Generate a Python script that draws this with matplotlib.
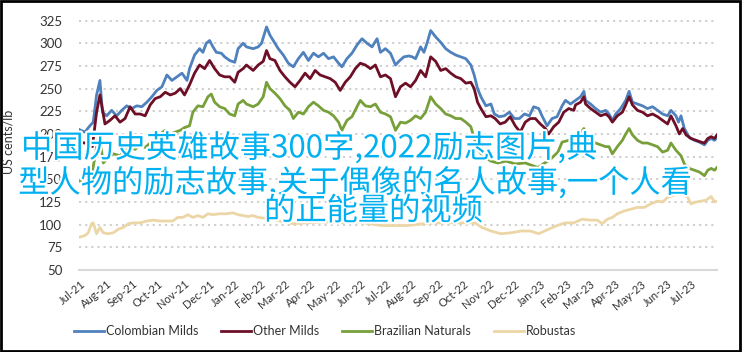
import matplotlib
matplotlib.use("Agg")
import matplotlib.pyplot as plt
import matplotlib.dates as mdates
import matplotlib.patheffects as pe
from matplotlib.patches import Rectangle
import pandas as pd

BASE = "2021-07-01"

# (day offset from BASE, US cents/lb)
colombian_milds = [(-2,205),(5,202),(11,209),(15,213),(19,243),(23,259),(26,224),(31,220),(37,226),(43,220),(49,226),(55,231),(61,228),(67,231),(73,230),(79,235),(85,241),(91,248),(97,252),(103,265),(109,259),(115,263),(121,267),(127,259),(130,272),(136,287),(142,294),(146,290),(150,300),(154,303),(158,296),(162,290),(168,289),(172,285),(178,281),(184,279),(188,294),(194,300),(198,296),(206,294),(212,296),(216,300),(222,318),(226,309),(230,303),(236,294),(242,287),(248,278),(254,274),(260,283),(266,290),(272,281),(278,289),(284,285),(290,289),(296,283),(302,285),(308,278),(312,274),(318,283),(324,289),(330,298),(336,305),(342,300),(348,296),(354,305),(358,290),(364,294),(370,289),(376,276),(380,280),(386,285),(392,286),(396,285),(400,283),(406,296),(410,290),(414,301),(418,314),(424,307),(430,301),(436,294),(442,290),(448,287),(454,285),(460,283),(466,276),(470,265),(474,250),(478,241),(484,231),(490,233),(494,222),(500,219),(506,220),(512,224),(518,217),(524,217),(530,222),(536,220),(541,230),(547,228),(551,220),(557,209),(563,217),(569,219),(575,231),(579,237),(585,233),(591,237),(597,241),(601,247),(603,237),(609,233),(615,228),(621,224),(627,226),(631,222),(635,215),(639,222),(645,228),(651,237),(655,247),(659,235),(665,233),(671,231),(677,228),(683,230),(689,226),(695,222),(701,220),(705,226),(711,220),(714,213),(717,220),(721,206),(727,196),(733,193),(739,191),(745,188),(749,193),(753,195),(757,193),(760,196)]

other_milds = [(-2,191),(5,190),(11,188),(14,186),(19,224),(23,243),(29,211),(35,215),(41,220),(47,213),(53,217),(59,230),(65,222),(71,222),(77,220),(83,232),(89,239),(95,241),(101,246),(107,243),(113,245),(119,250),(124,243),(130,254),(136,267),(142,276),(148,272),(154,281),(160,272),(166,265),(172,263),(178,263),(184,257),(188,268),(194,272),(198,276),(206,270),(212,276),(218,280),(222,292),(226,283),(232,281),(238,270),(244,263),(250,257),(256,252),(262,259),(268,267),(274,261),(280,270),(286,265),(292,263),(298,261),(304,257),(310,248),(316,257),(322,263),(328,272),(334,278),(340,276),(346,272),(352,276),(358,263),(364,265),(370,261),(376,241),(382,252),(388,256),(394,252),(400,259),(406,270),(412,263),(418,285),(424,280),(430,270),(436,272),(442,267),(448,263),(454,261),(460,256),(466,257),(470,250),(474,235),(478,228),(484,219),(490,220),(495,217),(501,211),(507,213),(513,219),(519,209),(525,202),(531,213),(537,217),(543,217),(549,211),(555,206),(559,200),(565,208),(571,213),(577,224),(583,228),(589,226),(591,232),(597,235),(601,241),(603,233),(609,228),(615,224),(621,220),(627,222),(631,219),(635,213),(641,220),(647,224),(651,232),(655,241),(659,232),(665,226),(671,224),(677,220),(683,222),(689,219),(695,215),(701,211),(705,220),(711,209),(715,200),(719,206),(723,199),(729,195),(735,193),(741,191),(745,190),(749,195),(753,197),(757,195),(760,199)]

brazilian_naturals = [(-2,148),(5,149),(11,152),(14,158),(17,175),(22,200),(27,168),(31,172),(39,178),(47,176),(53,182),(59,186),(65,183),(71,188),(77,185),(83,190),(89,195),(95,200),(101,204),(107,200),(113,202),(119,204),(124,207),(130,209),(134,224),(140,231),(146,230),(152,241),(156,244),(160,235),(166,230),(172,228),(178,222),(184,220),(188,233),(194,237),(198,233),(206,230),(212,233),(218,241),(222,257),(226,250),(232,245),(238,239),(244,231),(250,226),(254,217),(260,224),(266,222),(272,230),(278,235),(284,231),(290,226),(296,224),(302,220),(308,213),(312,204),(318,215),(324,219),(330,230),(334,237),(340,231),(346,230),(352,233),(358,224),(364,222),(370,219),(376,204),(382,213),(388,212),(394,215),(400,220),(406,217),(412,224),(418,241),(424,233),(430,228),(436,222),(442,220),(448,217),(454,217),(460,213),(466,208),(470,195),(474,184),(480,176),(490,170),(498,168),(508,170),(519,167),(531,168),(546,163),(561,172),(570,180),(575,191),(583,193),(589,195),(591,191),(597,200),(601,206),(603,199),(609,193),(615,190),(621,188),(627,186),(631,186),(635,178),(641,186),(647,193),(651,200),(655,206),(659,199),(665,193),(671,190),(677,190),(683,188),(689,186),(695,180),(701,182),(705,190),(711,182),(717,176),(721,167),(727,162),(733,160),(739,158),(745,154),(749,160),(753,162),(757,160),(760,163)]

robustas = [(-2,86),(5,88),(9,91),(13,101),(15,102),(19,90),(23,97),(27,91),(33,90),(39,91),(45,95),(51,97),(57,101),(63,102),(71,102),(79,104),(87,105),(95,104),(103,104),(110,104),(116,108),(122,108),(128,111),(134,108),(140,110),(146,108),(152,112),(158,111),(166,112),(174,112),(182,113),(188,111),(194,110),(200,109),(206,110),(212,108),(220,107),(230,106),(242,103),(254,101),(270,102),(290,103),(310,102),(330,103),(345,101),(360,99),(375,99),(390,99),(410,101),(430,102),(450,102),(465,102),(471,102),(479,97),(490,93),(502,90),(514,91),(526,93),(537,93),(547,90),(559,95),(569,99),(579,102),(589,102),(599,106),(609,105),(617,105),(623,101),(629,106),(635,108),(641,112),(649,115),(657,117),(665,119),(673,119),(681,123),(689,126),(695,125),(701,130),(707,132),(713,134),(721,133),(725,130),(729,123),(735,125),(741,126),(747,127),(753,131),(757,125),(760,126)]

series_names = ["Colombian Milds", "Other Milds", "Brazilian Naturals", "Robustas"]
series_data = [colombian_milds, other_milds, brazilian_naturals, robustas]
series_colors = ["#4f81bd", "#6d0f26", "#77a03b", "#ecd6a6"]

y_ticks = [50, 75, 100, 125, 150, 175, 200, 225, 250, 275, 300, 325]
y_label = "US cents/lb"

overlay_lines = ["中国历史英雄故事300字,2022励志图片,典",
                 "型人物的励志故事,关于偶像的名人故事,一个人看",
                 "的正能量的视频"]

plt.rcParams['font.family'] = ['Lato', 'DejaVu Sans']

fig = plt.figure(figsize=(7.43, 3.52), dpi=100)
ax = fig.add_axes([79/743, 1-270/352, (717-79)/743, (270-11.5)/352])

base = pd.Timestamp(BASE)
for name, data, col in zip(series_names, series_data, series_colors):
    d = [base + pd.Timedelta(days=k) for k, _ in data]
    v = [val for _, val in data]
    ax.plot(d, v, color=col, lw=2.0, label=name, solid_joinstyle='round')

first = base + pd.Timedelta(days=colombian_milds[0][0])
last = base + pd.Timedelta(days=colombian_milds[-1][0])
ax.set_xlim(first, last)
ax.set_ylim(50, 335)
ax.set_yticks(y_ticks)
ax.yaxis.grid(True, color="#cccccc", linestyle=(0, (1.2, 2.2)), lw=1.3)
ax.set_axisbelow(True)
for s in ["left", "right", "top"]:
    ax.spines[s].set_visible(False)
ax.spines["bottom"].set_color("#d9d9d9")
ax.spines["bottom"].set_linewidth(1.5)
ax.xaxis.set_major_locator(mdates.MonthLocator())
ax.xaxis.set_major_formatter(mdates.DateFormatter("%b-%y"))
ax.tick_params(axis="y", length=0, pad=12, labelsize=9.5, labelcolor="#333333")
ax.tick_params(axis="x", length=0, pad=6, labelsize=8, labelcolor="#333333")
for lab in ax.get_xticklabels():
    lab.set_rotation(40)
    lab.set_ha("right")
    lab.set_rotation_mode("anchor")

fig.text(9/743, 1-142/352, y_label, rotation=90, ha="center", va="center",
         fontsize=9, color="#333333")

handles, labels = ax.get_legend_handles_labels()
fig.legend(handles, labels, loc="center", bbox_to_anchor=(325/743, 1-331/352),
           ncol=4, frameon=False, fontsize=9, handlelength=2.4,
           handletextpad=0.2, columnspacing=1.8, labelcolor="#333333")

centers = [(309, 148), (355, 183), (373.5, 211)]
for txt, (cx, cy) in zip(overlay_lines, centers):
    fig.text(cx/743, 1-cy/352, txt, ha="center", va="center", fontsize=22.5,
             color="#00b0f0", family=["Noto Sans CJK SC", "DejaVu Sans"],
             path_effects=[pe.withStroke(linewidth=3, foreground="white")], zorder=10)

fig.patches.append(Rectangle((0.0015, 0.004), 0.995, 0.993, transform=fig.transFigure,
                             fill=False, ec="black", lw=2))

fig.savefig("out.png", dpi=100)
